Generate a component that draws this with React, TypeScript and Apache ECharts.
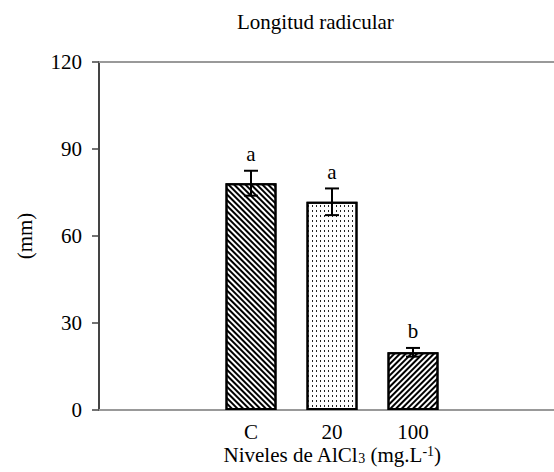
import React, { useEffect, useRef } from "react";
import * as echarts from "echarts";

const categories = ["C", "20", "100"];
const means = [78.2, 71.8, 19.9];
const errors = [4.3, 4.6, 1.5];
const letters = ["a", "a", "b"];
const yTicks = { min: 0, max: 120, interval: 30 };

const FONT = "'Liberation Serif', 'Times New Roman', serif";

export default function App() {
  const ref = useRef<HTMLDivElement>(null);
  useEffect(() => {
    document.body.style.margin = "0";
    if (!ref.current) return;
    const chart = echarts.init(ref.current, undefined, { renderer: "svg" });
    const decals = [
      { symbol: "rect", symbolSize: 1, dashArrayX: [1, 0], dashArrayY: [1.6, 1.4], rotation: Math.PI / 4, color: "#000" },
      { symbol: "rect", symbolSize: 1, dashArrayX: [1, 3], dashArrayY: [2, 3], rotation: 0, color: "#222" },
      { symbol: "rect", symbolSize: 1, dashArrayX: [1, 0], dashArrayY: [1.8, 1.7], rotation: -Math.PI / 4, color: "#000" },
    ];
    const option: any = {
      animation: false,
      backgroundColor: "#fff",
      textStyle: { fontFamily: FONT },
      title: {
        text: "Longitud radicular",
        left: 232,
        top: 6,
        textStyle: { fontFamily: FONT, fontSize: 21, fontWeight: "normal", color: "#000" },
      },
      grid: [
        { left: 99, right: -10, top: 62, bottom: 62, outerBoundsMode: "none", containLabel: false },
        { left: 210.5, width: 243, top: 62, bottom: 62, outerBoundsMode: "none", containLabel: false },
      ],
      xAxis: [
        {
          gridIndex: 0, type: "value", min: 0, max: 1, position: "bottom",
          axisLine: { show: true, lineStyle: { color: "#999", width: 2 } },
          axisTick: { show: false }, axisLabel: { show: false }, splitLine: { show: false },
        },
        {
          gridIndex: 0, type: "value", min: 0, max: 1, position: "top",
          axisLine: { show: true, lineStyle: { color: "#999", width: 2 } },
          axisTick: { show: false }, axisLabel: { show: false }, splitLine: { show: false },
        },
        {
          gridIndex: 1, type: "category", data: categories, position: "bottom",
          axisLine: { show: false }, axisTick: { show: false }, splitLine: { show: false },
          axisLabel: { fontFamily: FONT, fontSize: 21, lineHeight: 21, color: "#000", margin: 11 },
          name: "Niveles de AlCl{sub|3} (mg.L{sup|-1})",
          nameLocation: "middle",
          nameGap: 34,
          nameMoveOverlap: false,
          nameTextStyle: {
            fontFamily: FONT, fontSize: 21, lineHeight: 21, color: "#000",
            rich: {
              sub: { fontFamily: FONT, fontSize: 14, lineHeight: 21, color: "#000", verticalAlign: "bottom", padding: [6, 0, 0, 0] },
              sup: { fontFamily: FONT, fontSize: 14, lineHeight: 21, color: "#000", verticalAlign: "top", padding: [0, 0, 6, 0] },
            },
          },
        },
      ],
      yAxis: [
        {
          gridIndex: 0, type: "value", min: yTicks.min, max: yTicks.max, interval: yTicks.interval,
          axisLine: { show: true, lineStyle: { color: "#444", width: 2 } },
          axisTick: { show: true, length: 7, lineStyle: { color: "#444", width: 1.5 } },
          axisLabel: { fontFamily: FONT, fontSize: 21, color: "#000", margin: 17 },
          splitLine: { show: false },
          name: "(mm)", nameLocation: "middle", nameRotate: 90, nameGap: 64,
          nameMoveOverlap: false,
          nameTextStyle: { fontFamily: FONT, fontSize: 21, color: "#000" },
        },
        {
          gridIndex: 1, type: "value", min: yTicks.min, max: yTicks.max, interval: yTicks.interval,
          show: false,
        },
      ],
      series: [
        {
          type: "bar",
          xAxisIndex: 2,
          yAxisIndex: 1,
          barWidth: 51,
          data: means.map((v, i) => ({
            value: v,
            itemStyle: { color: "#fff", borderColor: "#000", borderWidth: 2, decal: decals[i] },
          })),
          z: 2,
        },
        {
          type: "custom",
          xAxisIndex: 2,
          yAxisIndex: 1,
          z: 5,
          data: means.map((v, i) => [i, v, errors[i]]),
          renderItem: (params: any, api: any) => {
            const idx = api.value(0);
            const m = api.value(1);
            const e = api.value(2);
            const letter = letters[params.dataIndex];
            const top = api.coord([idx, m + e]);
            const bot = api.coord([idx, m - e]);
            const hw = 7;
            const ls = { stroke: "#000", lineWidth: 2 };
            return {
              type: "group",
              children: [
                { type: "line", shape: { x1: top[0], y1: top[1], x2: bot[0], y2: bot[1] }, style: ls },
                { type: "line", shape: { x1: top[0] - hw, y1: top[1], x2: top[0] + hw, y2: top[1] }, style: ls },
                { type: "line", shape: { x1: bot[0] - hw, y1: bot[1], x2: bot[0] + hw, y2: bot[1] }, style: ls },
                {
                  type: "text",
                  x: top[0],
                  y: top[1] - 6,
                  style: { text: letter, fontFamily: FONT, fontSize: 21, fill: "#000", align: "center", verticalAlign: "bottom" },
                },
              ],
            };
          },
        },
      ],
    };
    chart.setOption(option);
    return () => chart.dispose();
  }, []);
  return <div ref={ref} style={{ width: 554, height: 472 }} />;
}
